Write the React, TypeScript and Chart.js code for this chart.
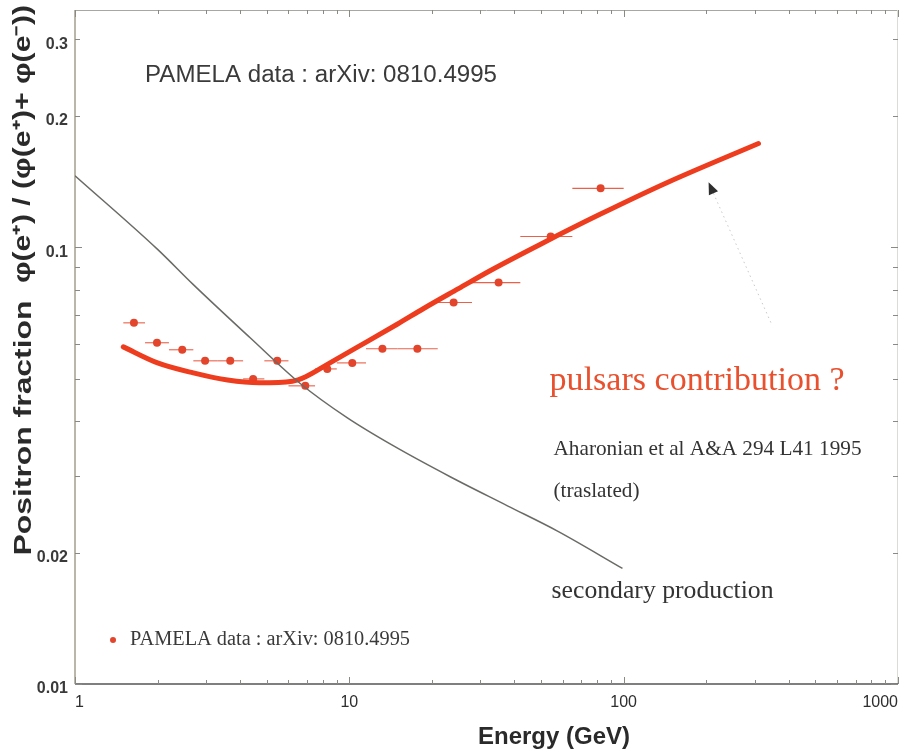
import { useEffect, useRef } from 'react';
import { Chart, registerables } from 'chart.js';

Chart.register(...registerables);

// PAMELA positron fraction measurements (energy bin centre, value, bin edges)
const pamelaEnergy = [1.64, 1.99, 2.46, 2.98, 3.68, 4.46, 5.46, 6.91, 8.31, 10.25, 13.2, 17.7, 24.0, 35.0, 54.2, 82.4];
const pamelaFraction = [0.0672, 0.0605, 0.0583, 0.055, 0.055, 0.05, 0.055, 0.0482, 0.0527, 0.0544, 0.0586, 0.0586, 0.0748, 0.0831, 0.106, 0.1366];
const pamelaBinLow = [1.5, 1.8, 2.2, 2.7, 3.3, 4.1, 4.9, 6.0, 7.5, 9.0, 11.5, 15, 21, 28, 42, 65];
const pamelaBinHigh = [1.8, 2.2, 2.7, 3.3, 4.1, 4.9, 6.0, 7.5, 9.0, 11.5, 15, 21, 28, 42, 65, 100];

// Pulsar contribution model curve
const pulsarEnergy = [1.5, 2.0, 2.7, 3.6, 4.7, 6.2, 6.9, 8.5, 10.7, 15, 18.6, 25, 32.7, 50, 82, 145, 310];
const pulsarFraction = [0.0592, 0.0544, 0.0516, 0.0497, 0.049, 0.0494, 0.0505, 0.0544, 0.0591, 0.0668, 0.0724, 0.0805, 0.0886, 0.1019, 0.1191, 0.1411, 0.1731];

// Secondary production curve
const secondaryEnergy = [1, 2.0, 2.7, 4.35, 6.62, 9.84, 14.5, 23.4, 37.7, 57.4, 99];
const secondaryFraction = [0.146, 0.099, 0.0822, 0.0621, 0.0488, 0.0407, 0.0351, 0.0298, 0.0256, 0.0224, 0.0184];

const xTickLabels = [1, 10, 100, 1000];
const yTickLabels = [0.01, 0.02, 0.1, 0.2, 0.3];

const RED = '#ee3c1e';
const DOT = '#e2452c';
const SANS = '"Liberation Sans", Arial, sans-serif';
const SERIF = '"Liberation Serif", "Times New Roman", serif';

// Text annotations placed at (energy, fraction) anchors
const notes = [
  { text: 'PAMELA data : arXiv: 0810.4995', e: 1.8, f: 0.247, width: 352, font: `23px ${SANS}`, color: '#3a3a3a' },
  { text: 'pulsars contribution ?', e: 53.7, f: 0.0495, width: 295, font: `34px ${SERIF}`, color: '#e8502e' },
  { text: 'Aharonian et al A&A 294 L41 1995', e: 55.5, f: 0.0345, width: 308, font: `22px ${SERIF}`, color: '#333333' },
  { text: '(traslated)', e: 55.5, f: 0.0276, width: 86, font: `22px ${SERIF}`, color: '#333333' },
  { text: 'secondary production', e: 54.6, f: 0.01627, width: 222, font: `25px ${SERIF}`, color: '#333333' },
];

const legendAnchor = { e: 1.376, f: 0.01262 };
const legendText = { text: 'PAMELA data : arXiv: 0810.4995', e: 1.587, width: 280, font: `20px ${SERIF}` };

// Arrow pointing at the pulsar curve
const arrowTip = { e: 204, f: 0.141 };
const arrowTail = { e: 344, f: 0.0673 };

function matchTick(list: number[], v: number) {
  return list.find((t) => Math.abs(t - v) / t < 1e-6);
}

function fitText(ctx: CanvasRenderingContext2D, text: string, x: number, y: number, width: number, font: string, color: string) {
  ctx.save();
  ctx.font = font;
  ctx.fillStyle = color;
  ctx.textBaseline = 'middle';
  ctx.textAlign = 'left';
  const w = ctx.measureText(text).width;
  ctx.translate(x, y);
  ctx.scale(width / w, 1);
  ctx.fillText(text, 0, 0);
  ctx.restore();
}

function fitTextCentered(ctx: CanvasRenderingContext2D, text: string, x: number, y: number, width: number, font: string, color: string, rotate = 0) {
  ctx.save();
  ctx.font = font;
  ctx.fillStyle = color;
  ctx.textBaseline = 'middle';
  ctx.textAlign = 'center';
  const w = ctx.measureText(text).width;
  ctx.translate(x, y);
  ctx.rotate(rotate);
  ctx.scale(width / w, 1);
  ctx.fillText(text, 0, 0);
  ctx.restore();
}

const decorations = {
  id: 'decorations',
  beforeDatasetsDraw(chart: any) {
    const { ctx, chartArea: a, scales } = chart;
    const x = scales.x;
    const y = scales.y;
    ctx.save();

    // frame
    ctx.lineWidth = 1;
    ctx.strokeStyle = '#a8a8a0';
    ctx.beginPath();
    ctx.moveTo(a.left, a.top + 0.5);
    ctx.lineTo(a.right, a.top + 0.5);
    ctx.stroke();
    ctx.strokeStyle = '#dcdcd4';
    ctx.beginPath();
    ctx.moveTo(a.right - 0.5, a.top);
    ctx.lineTo(a.right - 0.5, a.bottom);
    ctx.stroke();
    ctx.strokeStyle = '#a39e8c';
    ctx.lineWidth = 1.5;
    ctx.beginPath();
    ctx.moveTo(a.left, a.top);
    ctx.lineTo(a.left, a.bottom);
    ctx.stroke();
    ctx.strokeStyle = '#555555';
    ctx.beginPath();
    ctx.moveTo(a.left, a.bottom);
    ctx.lineTo(a.right, a.bottom);
    ctx.stroke();

    // inward log ticks on x
    ctx.lineWidth = 1;
    ctx.strokeStyle = '#8a8a84';
    for (let d = 1; d <= 100; d *= 10) {
      for (let m = 1; m <= 10; m++) {
        const v = m * d;
        if (v > 1000) continue;
        const px = Math.round(x.getPixelForValue(v)) + 0.5;
        const len = m === 1 || m === 10 ? 7 : 4;
        ctx.beginPath();
        ctx.moveTo(px, a.bottom);
        ctx.lineTo(px, a.bottom - len);
        ctx.moveTo(px, a.top);
        ctx.lineTo(px, a.top + len);
        ctx.stroke();
      }
    }
    // inward log ticks on y
    for (const d of [0.01, 0.1]) {
      for (let m = 1; m <= 9; m++) {
        const v = m * d;
        if (v > 0.35) continue;
        const py = Math.round(y.getPixelForValue(v)) + 0.5;
        const len = m === 1 ? 7 : 5;
        ctx.beginPath();
        ctx.moveTo(a.left, py);
        ctx.lineTo(a.left + len, py);
        ctx.moveTo(a.right, py);
        ctx.lineTo(a.right - len, py);
        ctx.stroke();
      }
    }

    // horizontal energy-bin bars on the PAMELA points
    ctx.strokeStyle = '#ea6048';
    ctx.lineWidth = 1.1;
    pamelaEnergy.forEach((_, i) => {
      const py = y.getPixelForValue(pamelaFraction[i]);
      ctx.beginPath();
      ctx.moveTo(x.getPixelForValue(pamelaBinLow[i]), py);
      ctx.lineTo(x.getPixelForValue(pamelaBinHigh[i]), py);
      ctx.stroke();
    });
    ctx.restore();
  },
  afterDatasetsDraw(chart: any) {
    const { ctx, chartArea: a, scales } = chart;
    const x = scales.x;
    const y = scales.y;

    notes.forEach((n) => {
      fitText(ctx, n.text, x.getPixelForValue(n.e), y.getPixelForValue(n.f), n.width, n.font, n.color);
    });

    // legend
    ctx.save();
    ctx.fillStyle = DOT;
    ctx.beginPath();
    ctx.arc(x.getPixelForValue(legendAnchor.e), y.getPixelForValue(legendAnchor.f), 3, 0, Math.PI * 2);
    ctx.fill();
    ctx.restore();
    fitText(ctx, legendText.text, x.getPixelForValue(legendText.e), y.getPixelForValue(legendAnchor.f), legendText.width, legendText.font, '#3a3a3a');

    // arrow
    const tx = x.getPixelForValue(arrowTip.e);
    const ty = y.getPixelForValue(arrowTip.f);
    const sx = x.getPixelForValue(arrowTail.e);
    const sy = y.getPixelForValue(arrowTail.f);
    const ang = Math.atan2(ty - sy, tx - sx);
    ctx.save();
    ctx.strokeStyle = '#c8c8c8';
    ctx.lineWidth = 1;
    ctx.setLineDash([1.5, 3.5]);
    ctx.beginPath();
    ctx.moveTo(sx, sy);
    ctx.lineTo(tx - 10 * Math.cos(ang), ty - 10 * Math.sin(ang));
    ctx.stroke();
    ctx.setLineDash([]);
    ctx.fillStyle = '#2e2e2e';
    ctx.translate(tx, ty);
    ctx.rotate(ang);
    ctx.beginPath();
    ctx.moveTo(0, 0);
    ctx.lineTo(-12, -5);
    ctx.lineTo(-12, 5);
    ctx.closePath();
    ctx.fill();
    ctx.restore();

    // axis titles
    fitText(ctx, 'Energy (GeV)', a.left + 403, a.bottom + 54, 152, `bold 23px ${SANS}`, '#2a2a2a');
    fitTextCentered(ctx, 'Positron fraction', 24, 428, 255, `bold 24px ${SANS}`, '#2a2a2a', -Math.PI / 2);
    fitTextCentered(ctx, 'φ(e⁺) / (φ(e⁺)+ φ(e⁻))', 24, 144, 278, `bold 23px ${SANS}`, '#2a2a2a', -Math.PI / 2);
  },
};

export default function App() {
  const canvasRef = useRef<HTMLCanvasElement | null>(null);

  useEffect(() => {
    if (!canvasRef.current) return;
    const chart = new Chart(canvasRef.current, {
      type: 'scatter',
      data: {
        datasets: [
          {
            label: 'secondary production',
            data: secondaryEnergy.map((e, i) => ({ x: e, y: secondaryFraction[i] })),
            showLine: true,
            borderColor: '#6a6a66',
            borderWidth: 1.5,
            pointRadius: 0,
            cubicInterpolationMode: 'monotone',
          },
          {
            label: 'pulsars contribution',
            data: pulsarEnergy.map((e, i) => ({ x: e, y: pulsarFraction[i] })),
            showLine: true,
            borderColor: RED,
            borderWidth: 5,
            pointRadius: 0,
            cubicInterpolationMode: 'monotone',
            borderCapStyle: 'round',
          },
          {
            label: 'PAMELA data : arXiv: 0810.4995',
            data: pamelaEnergy.map((e, i) => ({ x: e, y: pamelaFraction[i] })),
            showLine: false,
            pointRadius: 4,
            pointBackgroundColor: DOT,
            pointBorderColor: DOT,
            pointBorderWidth: 0,
          },
        ],
      },
      options: {
        animation: false,
        responsive: true,
        maintainAspectRatio: false,
        layout: { padding: { top: 10, right: 7, left: 0, bottom: 0 } },
        plugins: { legend: { display: false }, tooltip: { enabled: false } },
        scales: {
          x: {
            type: 'logarithmic',
            min: 1,
            max: 1000,
            grid: { display: false, drawTicks: false },
            border: { display: false },
            ticks: {
              autoSkip: false,
              maxRotation: 0,
              align: 'inner',
              padding: 9,
              color: '#2e2e2e',
              font: { family: SANS, size: 16 },
              callback: (v: any) => {
                const t = matchTick(xTickLabels, Number(v));
                return t === undefined ? '' : String(t);
              },
            },
            afterFit: (s: any) => {
              s.height = 71;
              s.paddingLeft = 0;
              s.paddingRight = 0;
            },
          },
          y: {
            type: 'logarithmic',
            min: 0.01,
            max: 0.35,
            grid: { display: false, drawTicks: false },
            border: { display: false },
            ticks: {
              autoSkip: false,
              padding: 7,
              labelOffset: 5,
              color: '#3a3a3a',
              font: { family: SANS, size: 16, weight: 'bold' },
              callback: (v: any) => {
                const t = matchTick(yTickLabels, Number(v));
                return t === undefined ? '' : String(t);
              },
            },
            afterFit: (s: any) => {
              s.width = 75;
              s.paddingTop = 0;
              s.paddingBottom = 0;
            },
          },
        },
      },
      plugins: [decorations],
    } as any);
    return () => chart.destroy();
  }, []);

  return (
    <div style={{ position: 'fixed', left: 0, top: 0, width: 905, height: 755, background: '#ffffff' }}>
      <canvas ref={canvasRef} />
    </div>
  );
}
